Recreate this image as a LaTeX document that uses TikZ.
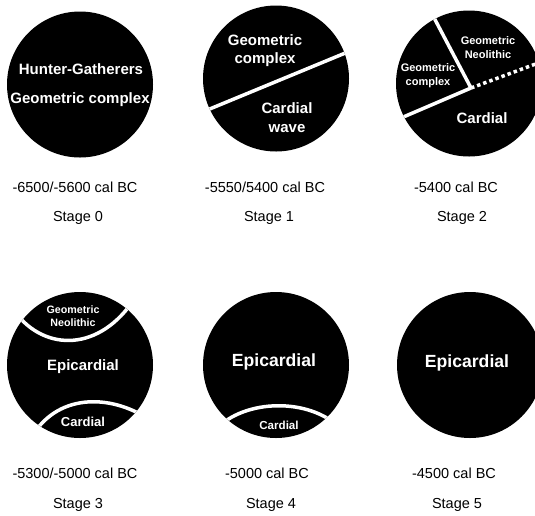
\documentclass[tikz,border=0pt]{standalone}
\usepackage{fontspec}
\setmainfont{Liberation Sans}

\begin{document}
\begin{tikzpicture}[x=1pt,y=-1pt]
\tikzstyle{disc}=[circle, fill=black, minimum size=146pt, inner sep=0pt]
\tikzstyle{tag}=[font=\fontsize{14.5}{17}\selectfont]
\tikzstyle{big}=[text=white, font=\bfseries\fontsize{15}{18}\selectfont, align=center]
\tikzstyle{small}=[text=white, font=\bfseries\fontsize{11}{14}\selectfont, align=center]
\tikzstyle{cut}=[white, line width=3.5pt]
\useasboundingbox (0,0) rectangle (535,515);
\clip (0,0) rectangle (535,515);

% the six discs
\node[disc] (s0) at (80,84.5) {};
\node[disc] (s1) at (276,78.5) {};
\node[disc] (s2) at (469,83.5) {};
\node[disc] (s3) at (80,365) {};
\node[disc] (s4) at (276,365) {};
\node[disc] (s5) at (470,365) {};

% dividing lines
\coordinate (hub) at (471,88);
\begin{scope}
\clip (s1.center) circle (73pt);
\draw[cut] (200,113) -- (355,49);
\end{scope}
\begin{scope}
\clip (s2.center) circle (73pt);
\draw[cut] (hub) -- (431,12);
\draw[cut] (hub) -- (394,121);
\draw[cut, dash pattern=on 3.5pt off 3pt] (hub) -- (545,60.5);
\end{scope}
\begin{scope}
\clip (s3.center) circle (73pt);
\draw[cut] (15,312) .. controls (45,352) and (100,352) .. (135,298);
\draw[cut] (30,440) .. controls (55,393) and (110,393) .. (150,420);
\end{scope}
\begin{scope}
\clip (s4.center) circle (73pt);
\draw[cut] (215,430) .. controls (245,398) and (310,398) .. (340,428);
\end{scope}

% labels inside
\node[big] (hg) at (81,69) {Hunter-Gatherers};
\node[big] (gc0) at (80,100) {Geometric complex};
\node[big] (gc1) at (265,50.5) {Geometric\\complex};
\node[big, font=\bfseries\fontsize{15}{19}\selectfont] (cw1) at (287,117.5) {Cardial\\wave};
\node[small] (gn2) at (488,48) {Geometric\\Neolithic};
\node[small] (gc2) at (428,76) {Geometric\\complex};
\node[big] (cd2) at (482,118) {Cardial};
\node[small, font=\bfseries\fontsize{10.7}{13}\selectfont] (gn3) at (73,316.5) {Geometric\\Neolithic};
\node[big] (ep3) at (83,367) {Epicardial};
\node[big, font=\bfseries\fontsize{13}{15}\selectfont] (cd3) at (83,422) {Cardial};
\node[big, font=\bfseries\fontsize{17.6}{20}\selectfont] (ep4) at (274,362) {Epicardial};
\node[small, font=\bfseries\fontsize{11.6}{14}\selectfont] (cd4) at (279,425) {Cardial};
\node[big, font=\bfseries\fontsize{17.6}{20}\selectfont] (ep5) at (467,363) {Epicardial};

% dates and stages
\node[tag] (d0) at (75,187) {-6500/-5600 cal BC};
\node[tag] (d1) at (265,187) {-5550/5400 cal BC};
\node[tag] (d2) at (456,187) {-5400 cal BC};
\node[tag] (t0) at (78,218) {Stage 0};
\node[tag] (t1) at (269,218) {Stage 1};
\node[tag] (t2) at (462,218) {Stage 2};
\node[tag] (d3) at (75,473) {-5300/-5000 cal BC};
\node[tag] (d4) at (267,473) {-5000 cal BC};
\node[tag] (d5) at (454,473) {-4500 cal BC};
\node[tag] (t3) at (78,505) {Stage 3};
\node[tag] (t4) at (271,505) {Stage 4};
\node[tag] (t5) at (457,505) {Stage 5};

\end{tikzpicture}
\end{document}
